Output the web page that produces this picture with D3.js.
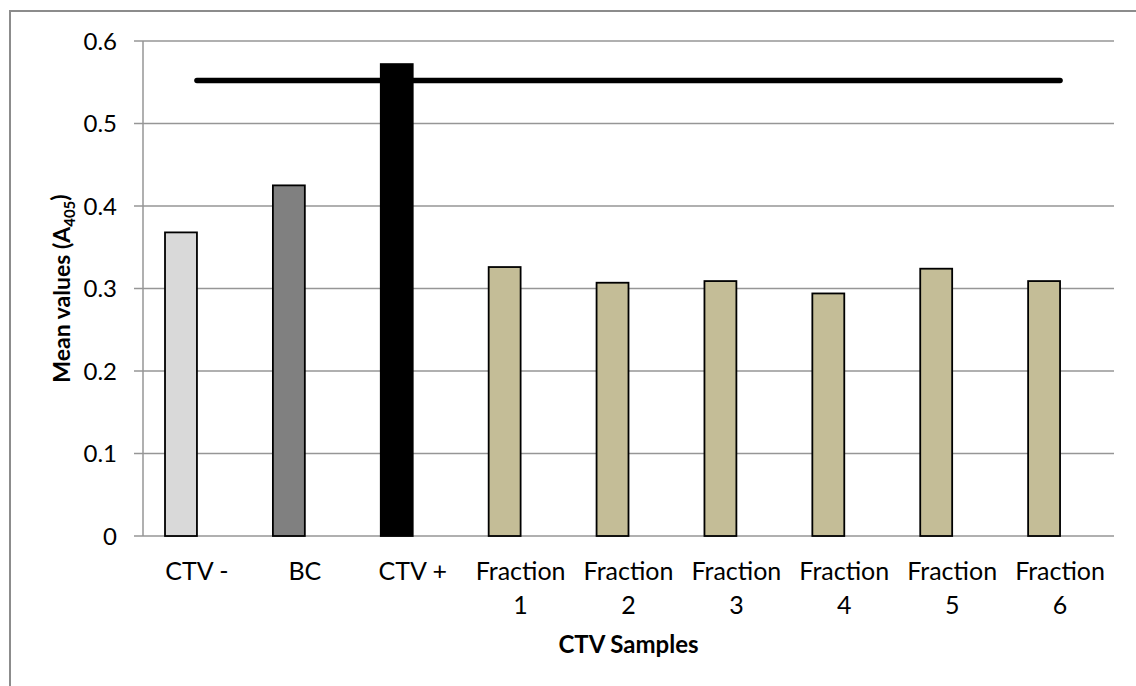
<!DOCTYPE html>
<html>
<head>
<meta charset="utf-8">
<script src="https://cdn.jsdelivr.net/npm/d3@7"></script>
<style>
  html, body { margin: 0; padding: 0; background: #fff; }
  svg { display: block; }
  text { font-family: Lato, "Open Sans", sans-serif; fill: #000; }
</style>
</head>
<body>
<svg id="chart" width="1136" height="686"></svg>
<script>
// Sample categories (multi-line labels split on "\n")
const categories = ["CTV -", "BC", "CTV +", "Fraction\n1", "Fraction\n2", "Fraction\n3", "Fraction\n4", "Fraction\n5", "Fraction\n6"];
// Mean absorbance at 405 nm per sample
const meanValues = [0.368, 0.425, 0.572, 0.326, 0.307, 0.309, 0.294, 0.324, 0.309];
// Bar fills per sample
const barColors = ["#d9d9d9", "#808080", "#000000", "#c4bd97", "#c4bd97", "#c4bd97", "#c4bd97", "#c4bd97", "#c4bd97"];
// Cut-off level drawn across all samples
const cutoffValues = [0.552, 0.552, 0.552, 0.552, 0.552, 0.552, 0.552, 0.552, 0.552];
const yTicks = [0, 0.1, 0.2, 0.3, 0.4, 0.5, 0.6];

const svg = d3.select("#chart");
const W = 1136, H = 686;
const plot = { left: 143, right: 1114, top: 41, bottom: 536 };

// Outer chart frame
svg.append("rect")
  .attr("x", 10).attr("y", 11)
  .attr("width", W + 40).attr("height", H + 40)
  .attr("fill", "none").attr("stroke", "#8c8c8c").attr("stroke-width", 2);

const x = d3.scaleBand().domain(categories).range([plot.left, plot.right]).padding(0);
const y = d3.scaleLinear().domain([0, 0.6]).range([plot.bottom, plot.top]);

// Horizontal gridlines
svg.append("g").selectAll("line").data(yTicks).join("line")
  .attr("x1", plot.left - 9).attr("x2", plot.right)
  .attr("y1", d => y(d)).attr("y2", d => y(d))
  .attr("stroke", "#969696").attr("stroke-width", 1.5);

// Vertical value axis line
svg.append("line")
  .attr("x1", plot.left).attr("x2", plot.left)
  .attr("y1", y(0.6)).attr("y2", y(0))
  .attr("stroke", "#969696").attr("stroke-width", 1.5);

// Y tick labels
svg.append("g").selectAll("text").data(yTicks).join("text")
  .attr("x", 117).attr("y", d => y(d))
  .attr("dy", "0.36em")
  .attr("text-anchor", "end")
  .style("font-size", "24px")
  .text(d => d === 0 ? "0" : d3.format(".1f")(d));

// Bars sit just left of each category centre
const barW = x.bandwidth() * 0.296;
svg.append("g").selectAll("rect").data(categories).join("rect")
  .attr("x", (d) => x(d) + x.bandwidth() / 2 - barW)
  .attr("y", (d, i) => y(meanValues[i]))
  .attr("width", barW)
  .attr("height", (d, i) => y(0) - y(meanValues[i]))
  .attr("fill", (d, i) => barColors[i])
  .attr("stroke", "#000").attr("stroke-width", 1.8);

// Cut-off line through category centres
const line = d3.line()
  .x((d, i) => x(categories[i]) + x.bandwidth() / 2)
  .y(d => y(d));
svg.append("path")
  .datum(cutoffValues)
  .attr("d", line)
  .attr("fill", "none")
  .attr("stroke", "#000").attr("stroke-width", 5.5)
  .attr("stroke-linecap", "round");

// Category labels
const catG = svg.append("g");
categories.forEach(c => {
  const cx = x(c) + x.bandwidth() / 2;
  const t = catG.append("text")
    .attr("x", cx)
    .attr("y", 571)
    .attr("text-anchor", "middle")
    .style("font-size", "25px");
  c.split("\n").forEach((part, k) => {
    t.append("tspan")
      .attr("x", cx)
      .attr("dy", k === 0 ? "0.35em" : "1.36em")
      .text(part);
  });
});

// X axis title
svg.append("text")
  .attr("x", (plot.left + plot.right) / 2)
  .attr("y", 645)
  .attr("dy", "0.35em")
  .attr("text-anchor", "middle")
  .style("font-size", "24px").style("font-weight", "bold")
  .text("CTV Samples");

// Y axis title with subscript
const yt = svg.append("text")
  .attr("transform", `translate(70, ${(plot.top + plot.bottom) / 2}) rotate(-90)`)
  .attr("text-anchor", "middle")
  .style("font-size", "23px").style("font-weight", "bold");
yt.append("tspan").text("Mean values (A");
yt.append("tspan").attr("dy", "0.3em").style("font-size", "15px").text("405");
yt.append("tspan").attr("dy", "-0.3em").text(")");
</script>
</body>
</html>
